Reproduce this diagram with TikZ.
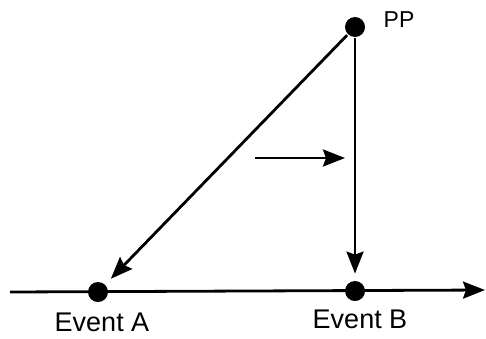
\documentclass[tikz,border=0pt]{standalone}
\usepackage{fontspec}
\setmainfont{Liberation Sans}
\usepackage{tikz}
\usetikzlibrary{arrows.meta,positioning}

\begin{document}
\begin{tikzpicture}[x=1pt,y=-1pt,line width=2.8pt,
  dot/.style={circle,fill,inner sep=0pt,minimum size=20pt},
  arr/.style={-{Stealth[length=22pt,width=17pt,inset=3pt]}},
  evt/.style={inner sep=0pt,font=\fontsize{27}{30}\selectfont}]
\useasboundingbox (0,0) rectangle (486,338);
\coordinate (L) at (10,292);
\coordinate (R) at (485,290);
\draw[arr] (L) -- (R);
\node[dot](PP) at (355,27) {};
\node[dot](A) at (98,292) {};
\node[dot](B) at (355,291) {};
\node[inner sep=0pt,font=\fontsize{23}{25}\selectfont](ppl) at (399,20) {PP};
\node[evt](al) at (102,322) {Event A};
\node[evt](bl) at (360,319) {Event B};
\draw[arr,shorten >=7pt] (PP) -- (A);
\draw[arr,shorten >=6pt] (PP) -- (B);
\coordinate (S1) at (255,158);
\coordinate (S2) at (345,158);
\draw[arr] (S1) -- (S2);
\end{tikzpicture}
\end{document}
